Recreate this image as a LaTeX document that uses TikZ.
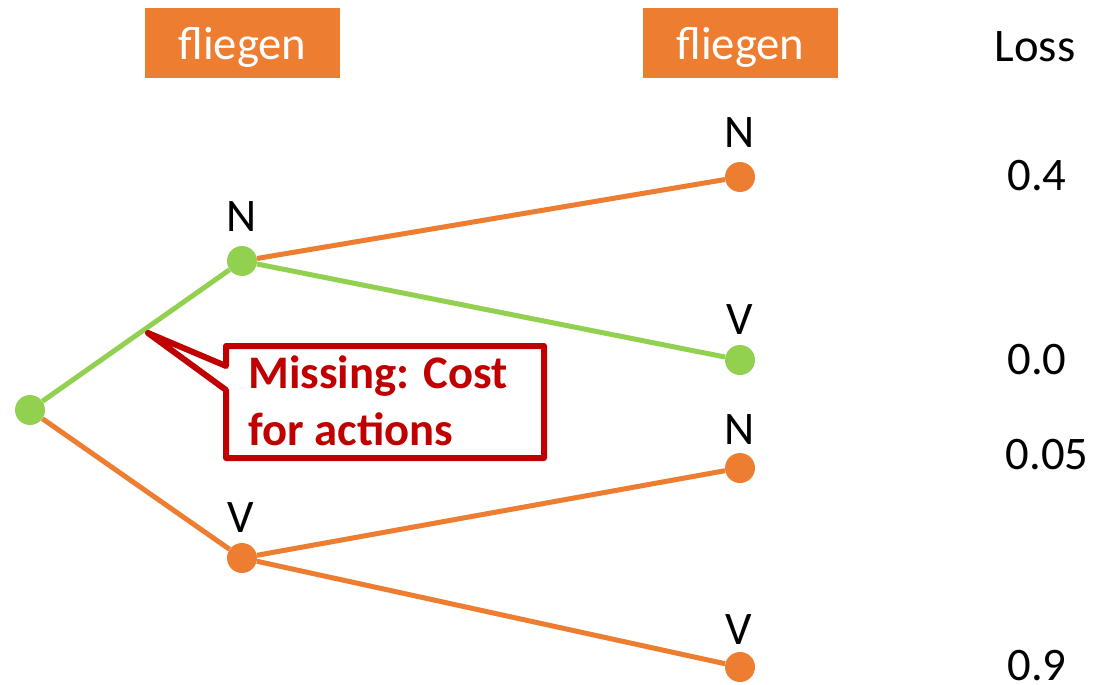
\documentclass[tikz,border=0pt]{standalone}
\usepackage{fontspec}
\setmainfont{Carlito}
\definecolor{orng}{HTML}{ED7D31}
\definecolor{grn}{HTML}{92D050}
\definecolor{dred}{HTML}{C00000}
\tikzset{
  dot/.style={circle, fill=#1, draw=none, minimum size=22.5pt, inner sep=0pt},
  edge/.style={draw=#1, line width=3.75pt},
  tag/.style={font=\fontsize{35}{42}\selectfont, inner sep=0pt, anchor=base},
  wordbox/.style={fill=orng, text=white, minimum width=146pt, minimum height=52.5pt,
    inner sep=0pt, font=\fontsize{35}{42}\selectfont},
  calltext/.style={font=\fontsize{35}{42}\selectfont\bfseries, text=dred, inner sep=0pt, anchor=base west},
}
\begin{document}
\begin{tikzpicture}[x=0.75pt, y=-0.75pt]
\useasboundingbox (0,0) rectangle (1096,685);

% word boxes
\node[wordbox] (w1) at (242.5,43) {};
\node[tag, text=white] (w1t) at (242.5,60) {fliegen};
\node[wordbox] (w2) at (740.5,43) {};
\node[tag, text=white] (w2t) at (740.5,60) {fliegen};
\node[tag] (loss) at (1035,62) {Loss};

% tree nodes
\node[dot=grn] (r) at (30,410) {};
\node[dot=grn] (n1) at (242,261) {};
\node[dot=orng] (v1) at (242,558) {};
\node[dot=orng] (nn) at (740,177) {};
\node[dot=grn] (nv) at (740,360) {};
\node[dot=orng] (vn) at (740,468) {};
\node[dot=orng] (vv) at (740,667) {};

% edges
\draw[edge=grn] (r) -- (n1);
\draw[edge=orng] (r) -- (v1);
\draw[edge=orng] (n1) -- (nn);
\draw[edge=grn] (n1) -- (nv);
\draw[edge=orng] (v1) -- (vn);
\draw[edge=orng] (v1) -- (vv);

% tag labels
\node[tag] (ln1) at (242,231) {N};
\node[tag] (lv1) at (241,532) {V};
\node[tag] (lnn) at (740,147) {N};
\node[tag] (lnv) at (740,334) {V};
\node[tag] (lvn) at (740,444) {N};
\node[tag] (lvv) at (739,644) {V};

% loss values
\node[tag] (l1) at (1037,190) {0.4};
\node[tag] (l2) at (1037,374) {0.0};
\node[tag] (l3) at (1047,469) {0.05};
\node[tag] (l4) at (1037,680) {0.9};

% callout
\coordinate (tip) at (148,333);
\draw[dred, fill=white, line width=4.5pt, line join=round]
  (226,366) -- (tip) -- (226,390) -- (226,458) -- (544,458) -- (544,346) -- (226,346) -- cycle;
\node[calltext] (c1) at (248,388) {Missing: Cost};
\node[calltext] (c2) at (248,445) {for actions};
\end{tikzpicture}
\end{document}
